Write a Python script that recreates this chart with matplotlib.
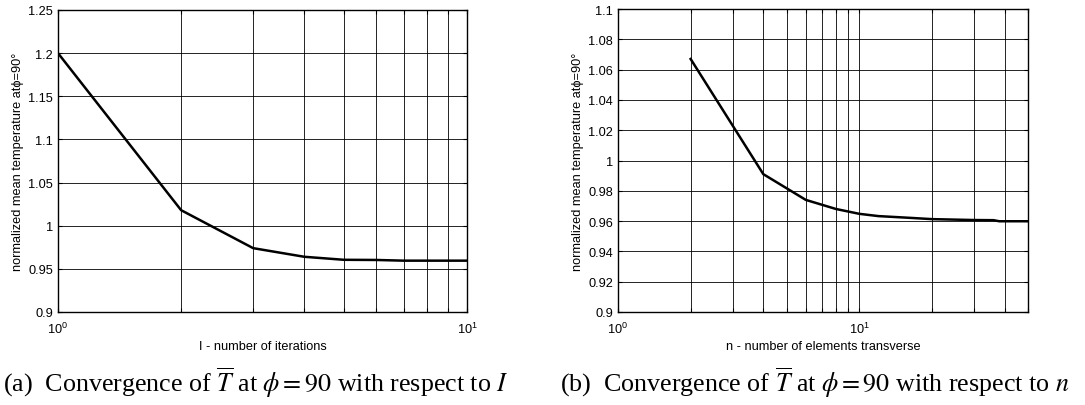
import numpy as np
import matplotlib
matplotlib.use("Agg")
import matplotlib.pyplot as plt
from matplotlib.ticker import LogLocator

plt.rcParams["font.family"] = ["Liberation Sans", "DejaVu Sans"]
plt.rcParams["mathtext.fontset"] = "custom"
plt.rcParams["mathtext.rm"] = "Liberation Sans"

# (a) iterations
iters = [1, 2, 3, 4, 5, 6, 7, 8, 9, 10]
temp_iters = [1.200, 1.018, 0.974, 0.964, 0.9605, 0.9603, 0.9595, 0.9595, 0.9595, 0.9595]

# (b) elements transverse
elems = [2, 4, 6, 8, 10, 12, 16, 20, 30, 36, 38, 50]
temp_elems = [1.067, 0.991, 0.974, 0.968, 0.9648, 0.9633, 0.9622, 0.9613, 0.9607, 0.9606, 0.9599, 0.9599]

ylab = "normalized mean temperature at\u03d5=90\u00b0"
FS = 9.2


def style_axis(ax, xlim, ylim, yticks):
    ax.set_xscale("log")
    ax.set_xlim(*xlim)
    ax.set_ylim(*ylim)
    ax.set_yticks(yticks)
    ax.set_yticklabels([f"{v:g}" for v in yticks])
    ax.xaxis.set_major_locator(LogLocator(base=10, numticks=5))
    ax.xaxis.set_minor_locator(LogLocator(base=10, subs=np.arange(2, 10), numticks=20))
    ax.grid(True, which="both", axis="x", color="black", linewidth=0.6)
    ax.grid(True, which="major", axis="y", color="black", linewidth=0.6)
    ax.tick_params(which="both", direction="in", top=True, right=True,
                   labelsize=FS, length=3, width=0.8)
    ax.tick_params(axis="x", which="major", pad=6)
    ax.tick_params(which="minor", labelbottom=False)
    for s in ax.spines.values():
        s.set_linewidth(1.0)
    ax.set_ylabel(ylab, fontsize=FS, labelpad=3)


fig = plt.figure(figsize=(10.85, 4.06), dpi=100)
W, H = 1085, 406

ax1 = fig.add_axes([58 / W, (H - 313) / H, (467 - 58) / W, (313 - 11) / H])
ax1.plot(iters, temp_iters, color="black", linewidth=1.8)
style_axis(ax1, (1, 10), (0.9, 1.25), [0.9, 0.95, 1, 1.05, 1.1, 1.15, 1.2, 1.25])
ax1.set_xlabel("I - number of iterations", fontsize=FS, labelpad=3)

ax2 = fig.add_axes([618 / W, (H - 313) / H, (1028 - 618) / W, (313 - 10) / H])
ax2.plot(elems, temp_elems, color="black", linewidth=1.8)
style_axis(ax2, (1, 50), (0.9, 1.1), np.round(np.arange(0.9, 1.1001, 0.02), 2))
ax2.set_xlabel("n - number of elements transverse", fontsize=FS, labelpad=3)

cap = {"family": ["Liberation Serif", "DejaVu Serif"], "size": 18.7}
fig.text(256 / W, 1 - 383 / H,
         r"(a)  Convergence of $\overline{T}$ at $\phi = 90$ with respect to $I$",
         ha="center", va="center", math_fontfamily="stix", **cap)
fig.text(815 / W, 1 - 383 / H,
         r"(b)  Convergence of $\overline{T}$ at $\phi = 90$ with respect to $n$",
         ha="center", va="center", math_fontfamily="stix", **cap)

fig.savefig("out.png", dpi=100)
